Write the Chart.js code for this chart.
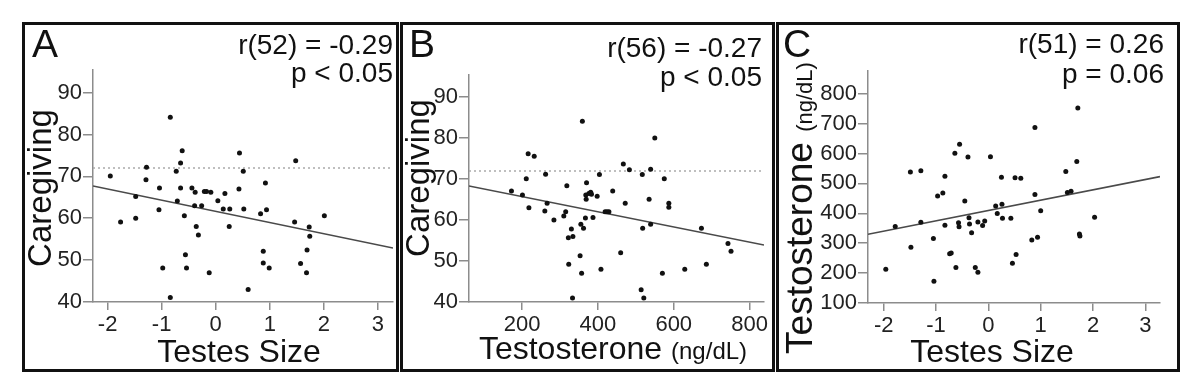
<!DOCTYPE html>
<html>
<head>
<meta charset="utf-8">
<script src="https://cdn.jsdelivr.net/npm/chart.js@4.4.0/dist/chart.umd.min.js"></script>
<style>
  body { margin: 0; width: 1200px; height: 386px; background: #fff; position: relative; overflow: hidden;
         font-family: "Liberation Sans", Arial, sans-serif; color: #111; }
  canvas { position: absolute; top: 0; }
  .box { position: absolute; top: 22px; height: 344px; border: 3px solid #111; pointer-events: none; }
  .txt { position: absolute; line-height: 1; white-space: nowrap; }
  .stat { text-align: right; font-size: 28px; }
  .letter { font-size: 39px; }
  .ytitle { transform: translate(-50%, -50%) rotate(-90deg); }
  .xtitle { transform: translateX(-50%); font-size: 32px; }
  .unit { font-size: 24px; }
</style>
</head>
<body>
<canvas id="chartA" width="371" height="386" style="left:25px"></canvas>
<canvas id="chartB" width="369" height="386" style="left:403px"></canvas>
<canvas id="chartC" width="398" height="386" style="left:779px"></canvas>

<div class="box" style="left:22px; width:371px"></div>
<div class="box" style="left:400px; width:369px"></div>
<div class="box" style="left:776px; width:398px"></div>

<div class="txt letter" style="left:32px; top:24px">A</div>
<div class="txt stat" style="right:807px; top:31px; line-height:28px">r(52) = -0.29<br>p &lt; 0.05</div>
<div class="txt ytitle" style="left:39px; top:188px; font-size:33px">Caregiving</div>
<div class="txt xtitle" style="left:239px; top:335px">Testes Size</div>

<div class="txt letter" style="left:409px; top:24px">B</div>
<div class="txt stat" style="right:438px; top:33px; line-height:29px">r(56) = -0.27<br>p &lt; 0.05</div>
<div class="txt ytitle" style="left:417px; top:178px; font-size:33px">Caregiving</div>
<div class="txt xtitle" style="left:613px; top:332px">Testosterone <span class="unit">(ng/dL)</span></div>

<div class="txt letter" style="left:783px; top:24px">C</div>
<div class="txt stat" style="right:36px; top:29px; line-height:30px">r(51) = 0.26<br>p = 0.06</div>
<div class="txt ytitle" style="left:799px; top:208px; font-size:37px">Testosterone <span style="font-size:22px">(ng/dL)</span></div>
<div class="txt xtitle" style="left:992px; top:335px">Testes Size</div>

<script>
// Panel A: testes size vs caregiving
const testesA = [-1.95, -1.76, -1.48, -1.48, -1.28, -1.29, -1.04, -1.05, -0.98, -0.84, -0.84, -0.73, -0.71,
  -0.62, -0.65, -0.65, -0.58, -0.56, -0.54, -0.44, -0.38, -0.39, -0.36, -0.32, -0.26, -0.21, -0.17, -0.12,
  -0.09, 0.04, 0.14, 0.17, 0.26, 0.25, 0.43, 0.44, 0.51, 0.52, 0.6, 0.83, 0.88, 0.88, 0.92, 0.94, 0.99,
  1.48, 1.46, 1.57, 1.68, 1.69, 1.73, 1.74, 2.01];
const caregivingA = [70.1, 59.1, 65.2, 60, 72.2, 69.2, 67.2, 62, 48.1, 84.1, 41.1, 71.2, 64.1,
  76.1, 73.2, 67.2, 60.6, 51.3, 48.1, 67.2, 66.2, 63, 58, 56, 63, 66.4, 66.4, 47,
  66.2, 64.2, 62.2, 65.9, 62.2, 58, 67, 75.6, 71.2, 62.2, 43, 61.1, 52.1, 49.3, 68.4, 62, 48.1,
  73.7, 59.1, 49.2, 47, 52.4, 57.9, 55.7, 60.6];

// Panel B: testosterone vs caregiving
const testoB = [172, 201, 211, 216, 218, 232, 260, 262, 266, 284, 310, 315, 318, 323, 322, 330, 334, 333,
  353, 355, 359, 357, 362, 367, 369, 370, 368, 376, 381, 383, 387, 398, 404, 408, 419, 424, 429, 439,
  460, 467, 472, 483, 514, 518, 517, 521, 535, 539, 539, 550, 570, 575, 587, 587, 629, 673, 686, 743, 751];
const caregivingB = [67.1, 66.1, 70.1, 76.2, 63, 75.6, 62.2, 71.2, 64.1, 60, 61, 62, 68.4, 49.2, 55.7, 57.8, 56, 41,
  51.3, 59, 84.1, 47, 58, 60.5, 65.1, 69.1, 66.1, 66.5, 66.8, 66.3, 60.6, 65.8, 71.1, 48, 62, 62, 62, 67.1,
  52, 73.7, 64.1, 72.3, 43, 58, 71.1, 41, 65.1, 72.4, 59, 80, 47, 70.1, 64.1, 63.1, 48, 58, 49.2, 54.3, 52.4];

// Panel C: testes size vs testosterone
const testesC = [-1.96, -1.78, -1.49, -1.48, -1.29, -1.29, -1.05, -1.04, -0.97, -0.87, -0.83, -0.83, -0.74,
  -0.71, -0.64, -0.62, -0.57, -0.56, -0.55, -0.45, -0.39, -0.37, -0.36, -0.32, -0.25, -0.2, -0.2, -0.11,
  -0.07, 0.04, 0.14, 0.17, 0.25, 0.26, 0.27, 0.43, 0.46, 0.51, 0.53, 0.62, 0.83, 0.89, 0.89, 0.94, 1.0,
  1.48, 1.51, 1.58, 1.69, 1.71, 1.74, 1.75, 2.03];
const testoC = [213, 356, 538, 286, 542, 370, 316, 173, 458, 468, 524, 360, 265,
  267, 601, 219, 368, 355, 631, 441, 588, 385, 364, 335, 219, 203, 371, 359,
  374, 589, 424, 399, 520, 430, 383, 383, 233, 519, 262, 517, 311, 687, 463, 320, 408,
  540, 469, 474, 573, 752, 331, 324, 387];

// axis ranges and ticks
const rangeTestes = [-2.27, 3.28];
const rangeTestesC = [-2.3, 3.28];
const rangeTesto = [60, 838];
const rangeCare = [40, 95.4];
const rangeTestoC = [100, 875.6];
const ticksTestes = [-2, -1, 0, 1, 2, 3];
const ticksTesto = [200, 400, 600, 800];
const ticksCare = [40, 50, 60, 70, 80, 90];
const ticksTestoC = [100, 200, 300, 400, 500, 600, 700, 800];

// fitted line values at the two ends of the x range
const fitA = [67.7, 52.9];
const fitB = [68.3, 53.9];
const fitC = [330, 522.7];
const cutoff = 72; // dotted reference line in A and B

const family = "'Liberation Sans', Arial, sans-serif";
const axisGray = '#8c8c8c';

function panel(id, o) {
  const datasets = [
    {
      type: 'scatter',
      data: o.xs.map((x, i) => ({ x: x, y: o.ys[i] })),
      backgroundColor: '#111',
      borderWidth: 0,
      pointRadius: 2.5
    },
    {
      type: 'line',
      data: [{ x: o.xr[0], y: o.fit[0] }, { x: o.xr[1], y: o.fit[1] }],
      borderColor: '#4a4a4a',
      borderWidth: 1.6,
      pointRadius: 0,
      fill: false
    }
  ];
  if (o.cut != null) {
    datasets.push({
      type: 'line',
      data: [{ x: o.xr[0], y: o.cut }, { x: o.xr[1], y: o.cut }],
      borderColor: '#aaaaaa',
      borderWidth: 1.5,
      borderDash: [2, 3],
      pointRadius: 0,
      fill: false
    });
  }

  new Chart(document.getElementById(id), {
    type: 'scatter',
    data: { datasets: datasets },
    options: {
      responsive: false,
      animation: false,
      events: [],
      layout: { autoPadding: false, padding: { left: 0, top: o.top, right: o.right, bottom: 0 } },
      plugins: { legend: { display: false }, tooltip: { enabled: false } },
      scales: {
        x: {
          type: 'linear',
          min: o.xr[0],
          max: o.xr[1],
          afterBuildTicks: (s) => { s.ticks = o.xt.map((v) => ({ value: v })); },
          afterFit: (s) => { s.height = o.xh; },
          grid: { drawOnChartArea: false, tickLength: 8, color: axisGray, lineWidth: 1.5 },
          border: { color: axisGray, width: 1.5 },
          ticks: { font: { family: family, size: 22 }, color: '#222', padding: 2, maxRotation: 0, autoSkip: false }
        },
        y: {
          type: 'linear',
          min: o.yr[0],
          max: o.yr[1],
          afterBuildTicks: (s) => { s.ticks = o.yt.map((v) => ({ value: v })); },
          afterFit: (s) => { s.width = o.yw; },
          grid: { drawOnChartArea: false, tickLength: 10, color: axisGray, lineWidth: 1.5 },
          border: { color: axisGray, width: 1.5 },
          ticks: { font: { family: family, size: 22 }, color: '#222', padding: 1, autoSkip: false }
        }
      }
    }
  });
}

panel('chartA', { xs: testesA, ys: caregivingA, xr: rangeTestes, yr: rangeCare, xt: ticksTestes, yt: ticksCare,
  fit: fitA, cut: cutoff, top: 70, right: 3, yw: 68, xh: 84 });
panel('chartB', { xs: testoB, ys: caregivingB, xr: rangeTesto, yr: rangeCare, xt: ticksTesto, yt: ticksCare,
  fit: fitB, cut: cutoff, top: 75, right: 8, yw: 66, xh: 84 });
panel('chartC', { xs: testesC, ys: testoC, xr: rangeTestesC, yr: rangeTestoC, xt: ticksTestes, yt: ticksTestoC,
  fit: fitC, cut: null, top: 71, right: 17, yw: 89, xh: 83 });
</script>
</body>
</html>
